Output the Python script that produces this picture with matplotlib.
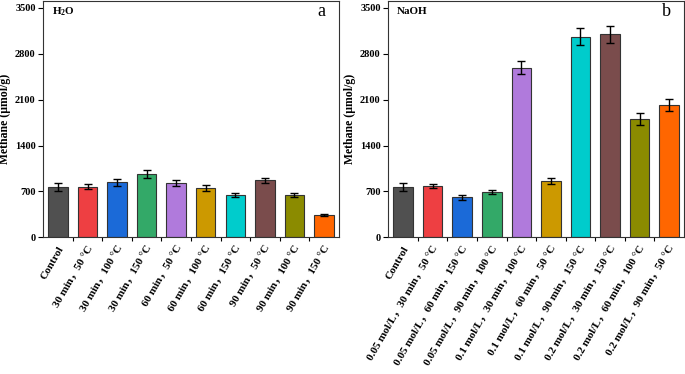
import matplotlib
matplotlib.use("Agg")
import matplotlib.pyplot as plt
import numpy as np

plt.rcParams['font.family'] = ['Liberation Serif', 'Noto Sans CJK SC', 'DejaVu Sans']
plt.rcParams['font.weight'] = 'bold'
plt.rcParams['mathtext.fontset'] = 'custom'
plt.rcParams['mathtext.rm'] = 'Liberation Serif:bold'
plt.rcParams['mathtext.bf'] = 'Liberation Serif:bold'

labels_a = ["Control", "30 min，50 °C", "30 min，100 °C", "30 min，150 °C",
            "60 min，50 °C", "60 min，100 °C", "60 min，150 °C",
            "90 min，50 °C", "90 min，100 °C", "90 min，150 °C"]
values_a = [770, 772, 837, 968, 831, 755, 648, 867, 644, 339]
errors_a = [65, 40, 50, 60, 50, 45, 30, 45, 35, 15]

labels_b = ["Control", "0.05 mol/L，30 min，50 °C", "0.05 mol/L，60 min，150 °C",
            "0.05 mol/L，90 min，100 °C", "0.1 mol/L，30 min，100 °C",
            "0.1 mol/L，60 min，50 °C", "0.1 mol/L，90 min，150 °C",
            "0.2 mol/L，30 min，150 °C", "0.2 mol/L，60 min，100 °C",
            "0.2 mol/L，90 min，50 °C"]
values_b = [770, 785, 609, 694, 2587, 857, 3063, 3094, 1805, 2024]
errors_b = [65, 35, 35, 35, 100, 45, 135, 135, 87, 90]

colors = ["#505050", "#EE3F42", "#1B6AD8", "#33A968", "#B07ADC",
          "#CC9900", "#00CCCC", "#7A4C4C", "#8B8B00", "#FF6600"]

yticks = [0, 700, 1400, 2100, 2800, 3500]

fig = plt.figure(figsize=(6.85, 3.74), dpi=100)
ax_a = fig.add_axes([0.0632, 0.3655, 0.4312, 0.631])
ax_b = fig.add_axes([0.5669, 0.3655, 0.4316, 0.631])

def draw(ax, labels, values, errors, tag, letter):
    x = np.arange(len(values))
    ax.bar(x, values, width=0.66, color=colors, edgecolor="#333333", linewidth=0.8, zorder=2)
    ax.errorbar(x, values, yerr=errors, fmt='none', ecolor='black', elinewidth=1.0,
                capsize=2.6, capthick=1.0, zorder=3)
    ax.set_xlim(-0.5, len(values) - 0.5)
    ax.set_ylim(0, 3600)
    ax.set_yticks(yticks)
    ax.set_yticklabels([str(v) for v in yticks], fontsize=7.5, fontweight='bold')
    ax.set_xticks(x)
    ax.set_xticklabels(labels, rotation=60, ha='right', va='top', rotation_mode='anchor',
                       fontsize=8, fontweight='bold')
    ax.set_xticks(np.arange(len(values) - 1) + 0.5, minor=True)
    ax.tick_params(axis='x', which='major', length=0, pad=5)
    ax.tick_params(axis='x', which='minor', length=3, width=0.8, direction='out')
    ax.tick_params(axis='y', which='major', length=3.5, width=0.8, direction='out', pad=2)
    for s in ax.spines.values():
        s.set_linewidth(0.8)
        s.set_color('#333333')
    ax.set_ylabel("Methane (µmol/g)", fontsize=8.5, fontweight='bold')
    ax.yaxis.set_label_coords(-0.108, 0.5)
    ax.text(0.03, 0.955, tag, transform=ax.transAxes, fontsize=8, fontweight='bold',
            ha='left', va='center')
    ax.text(0.955, 0.955, letter, transform=ax.transAxes, fontsize=13, fontweight='normal',
            ha='right', va='center')

draw(ax_a, labels_a, values_a, errors_a, r"H$_\mathbf{2}$O", "a")
draw(ax_b, labels_b, values_b, errors_b, "NaOH", "b")

fig.savefig("out.png", dpi=100)
